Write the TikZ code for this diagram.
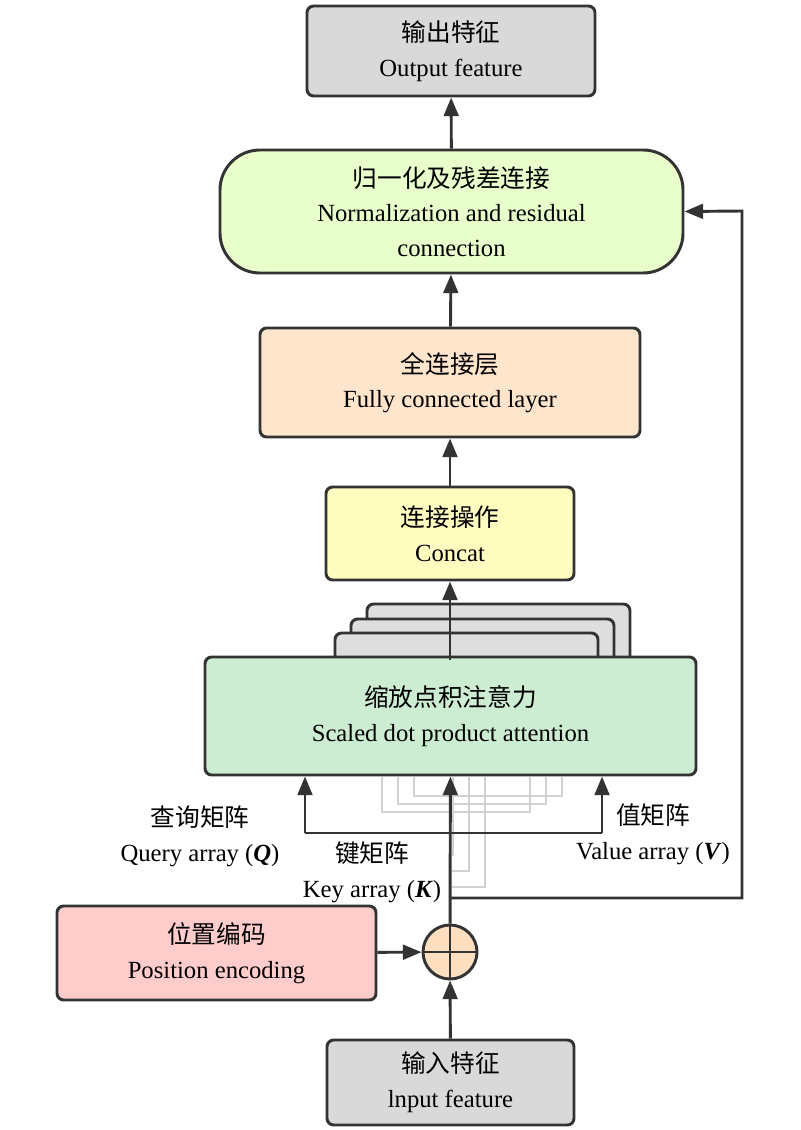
\documentclass[tikz,border=0pt]{standalone}
\usepackage{fontspec}
\setmainfont{Liberation Serif}
\newfontfamily\cjk{Noto Sans CJK SC}
\usetikzlibrary{arrows.meta}
\begin{document}
\begin{tikzpicture}[x=0.75pt,y=-0.75pt,
  box/.style={draw=black!80,line width=2.2pt,rounded corners=5pt,align=center,inner sep=0pt,font=\fontsize{18.5}{26}\selectfont},
  ln/.style={draw=black!80,line width=2.2pt},
  arr/.style={ln,-{Triangle[length=14pt 0,width=11pt 0]}},
  gl/.style={draw=black!18,line width=1.6pt},
  lbl/.style={align=center,font=\fontsize{18.5}{26}\selectfont}]
\useasboundingbox (0,0) rectangle (800,1130);
% gray shadow brackets
\foreach \d in {0,16,32}{
  \draw[gl] (382+\d,777) -- (382+\d,812-\d/2) -- (530+\d,812-\d/2) -- (530+\d,777);
  \draw[gl] (453+\d,777) -- (453+\d,855+\d) -- (452,855+\d);
}
% stacked heads
\foreach \xa/\xb/\yt in {367/630/604,351/614/619,335/598/633}
  \draw[ln,fill=black!13,rounded corners=5pt] (\xa,660) -- (\xa,\yt) -- (\xb,\yt) -- (\xb,660);
\node[box,fill=black!15,minimum width=288*0.75pt,minimum height=90*0.75pt] (out) at (451,51) {{\cjk 输出特征}\\Output feature};
\node[box,fill=green!45!yellow!20,rounded corners=30pt,minimum width=463*0.75pt,minimum height=123*0.75pt] (norm) at (451.5,211.5) {{\cjk 归一化及残差连接}\\Normalization and residual\\connection};
\node[box,fill=orange!20,minimum width=380*0.75pt,minimum height=109*0.75pt] (fc) at (450,382.5) {{\cjk 全连接层}\\Fully connected layer};
\node[box,fill=yellow!25,minimum width=248*0.75pt,minimum height=93*0.75pt] (cat) at (450,533.5) {{\cjk 连接操作}\\Concat};
\node[box,fill=cyan!12!green!20,minimum width=491*0.75pt,minimum height=118*0.75pt] (att) at (450.5,716) {{\cjk 缩放点积注意力}\\Scaled dot product attention};
\node[box,fill=red!20,minimum width=319*0.75pt,minimum height=94*0.75pt] (pos) at (216.5,953) {{\cjk 位置编码}\\Position encoding};
\node[box,fill=black!15,minimum width=247*0.75pt,minimum height=85*0.75pt] (in) at (450.5,1082.5) {{\cjk 输入特征}\\lnput feature};
\node[draw=black!80,line width=2.2pt,fill=orange!25,circle,minimum size=54*0.75pt,inner sep=0pt] (plus) at (450,952) {};
\draw[ln] (plus.north) -- (plus.south) (plus.west) -- (plus.east);
\coordinate (qb) at (305,833); \coordinate (vb) at (602,833);
\coordinate (rb) at (742,898); \coordinate (rt) at (742,211);
\draw[arr] (in) -- (plus);
\draw[arr] (pos) -- (plus);
\draw[arr] (plus) -- (att);
\draw[ln] (qb) -- (vb);
\draw[arr] (qb) -- (qb|-att.south);
\draw[arr] (vb) -- (vb|-att.south);
\draw[arr] (450,898) -- (rb) -- (rt) -- (norm.east);
\draw[arr] (450,660) -- (cat);
\draw[arr] (cat) -- (fc);
\draw[arr] (fc) -- (norm);
\draw[arr] (norm) -- (out);
\node[lbl] (ql) at (200,836) {{\cjk 查询矩阵}\\Query array (\textit{\textbf{Q}})};
\node[lbl] (kl) at (372,872) {{\cjk 键矩阵}\\Key array (\textit{\textbf{K}})};
\node[lbl] (vl) at (653,834) {{\cjk 值矩阵}\\Value array (\textit{\textbf{V}})};
\end{tikzpicture}
\end{document}
